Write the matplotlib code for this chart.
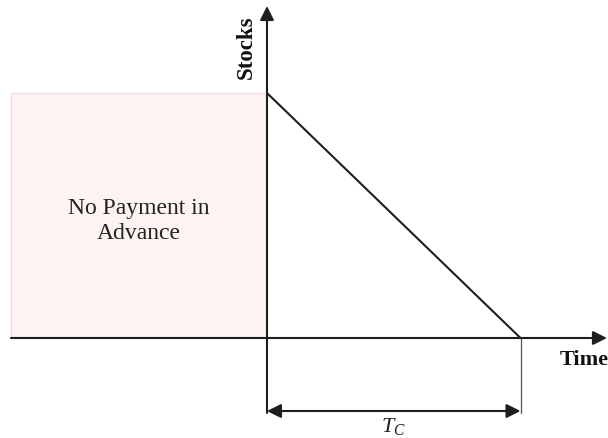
import matplotlib
matplotlib.use("Agg")
import matplotlib.pyplot as plt
from matplotlib.patches import Rectangle

plt.rcParams["mathtext.fontset"] = "custom"
plt.rcParams["mathtext.rm"] = "Liberation Serif"
plt.rcParams["mathtext.it"] = "Liberation Serif:italic"

# data (time in units of cycle length T_C, stock normalised to max)
time = [0.0, 1.0]
stock = [1.0, 0.0]
advance_start = -1.01
advance_label = "No Payment in\nAdvance"
x_label = "Time"
y_label = "Stocks"
cycle_label = r"$T_C$"

W, H = 608, 438
fig = plt.figure(figsize=(W / 100, H / 100), dpi=100)
ax = fig.add_axes([0, 0, 1, 1])
ax.set_xlim(-267 / 253.5, (608 - 267) / 253.5)
ax.set_ylim(-100 / 245, 338 / 245)
ax.axis("off")

serif = ["Liberation Serif", "DejaVu Serif"]
dark = "#1e1e1e"

# pink region
ax.add_patch(Rectangle((advance_start, 0), 0 - advance_start, max(stock),
                       facecolor="#fdf3f3", edgecolor="#f6d8d8", lw=0.8, zorder=1))
ax.text((advance_start + 0) / 2, 0.478, advance_label, ha="center", va="center",
        fontsize=17, family=serif, color="#222222", linespacing=1.27, zorder=3)

# stock line
ax.plot(time, stock, color=dark, lw=1.5, zorder=4, solid_capstyle="butt")

# axes
ax.annotate("", xy=(1.341, 0), xytext=(advance_start, 0),
            arrowprops=dict(arrowstyle="-|>,head_length=0.6,head_width=0.3",
                            color=dark, lw=1.5, shrinkA=0, shrinkB=0, mutation_scale=14),
            zorder=5)
ax.annotate("", xy=(0, 1.355), xytext=(0, -0.306),
            arrowprops=dict(arrowstyle="-|>,head_length=0.6,head_width=0.3",
                            color=dark, lw=1.5, shrinkA=0, shrinkB=0, mutation_scale=14),
            zorder=5)

# cycle dimension
ax.plot([time[1], time[1]], [0, -0.306], color="#555555", lw=0.9, zorder=3)
ax.annotate("", xy=(time[1], -0.298), xytext=(time[0], -0.298),
            arrowprops=dict(arrowstyle="<|-|>,head_length=0.6,head_width=0.3",
                            color=dark, lw=1.5, shrinkA=0, shrinkB=0, mutation_scale=14),
            zorder=5)
ax.text(0.497, -0.36, cycle_label, ha="center", va="center", fontsize=16,
        color="#222222", zorder=5)

# labels
ax.text(1.155, -0.09, x_label, ha="left", va="center", fontsize=16,
        fontweight="bold", family=serif, color="#111111")
ax.text(-0.083, 1.188, y_label, ha="center", va="center", rotation=90,
        fontsize=16.5, fontweight="bold", family=serif, color="#111111")

fig.savefig("out.png", dpi=100)
